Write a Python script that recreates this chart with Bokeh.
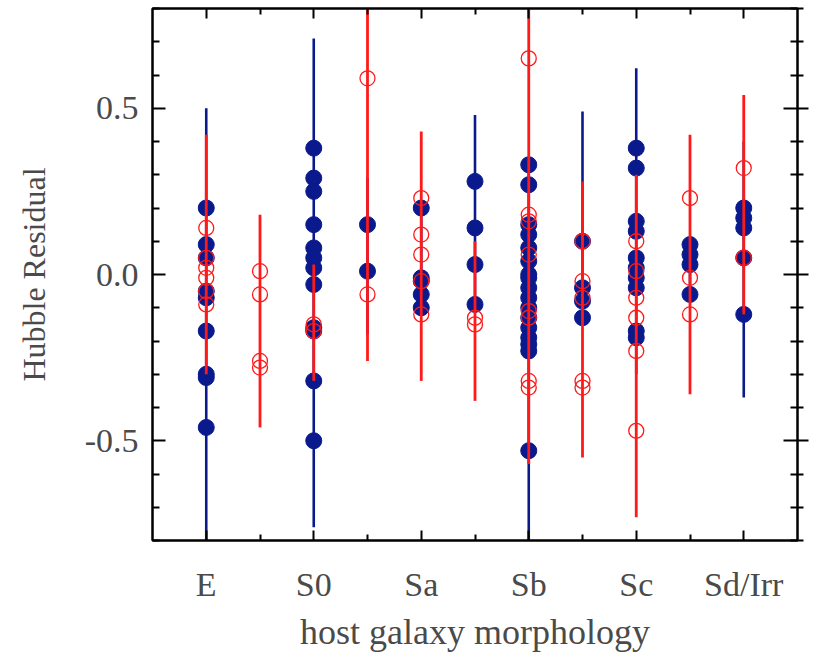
import math
from bokeh.plotting import figure
from bokeh.models import FixedTicker, LinearAxis, Range1d, ColumnDataSource, CustomJSTickFormatter
from bokeh.embed import file_html
from bokeh.resources import INLINE

# morphology bins (0..10); labels only on the main classes
positions = [0, 1, 2, 3, 4, 5, 6, 7, 8, 9, 10]
tick_positions = [0, 2, 4, 6, 8, 10]
tick_labels = ["E", "S0", "Sa", "Sb", "Sc", "Sd/Irr"]
minor_positions = [1, 3, 5, 7, 9]

# Hubble residuals per morphology bin
blue_residuals = [
    [0.20, 0.09, 0.05, -0.05, -0.07, -0.17, -0.30, -0.31, -0.46],
    [],
    [0.38, 0.29, 0.25, 0.15, 0.08, 0.05, 0.02, -0.03, -0.16, -0.17, -0.32, -0.50],
    [0.15, 0.01],
    [0.20, -0.01, -0.02, -0.06, -0.10],
    [0.28, 0.14, 0.03, -0.09],
    [0.33, 0.27, 0.15, 0.12, 0.08, 0.04, 0.00, -0.01, -0.04, -0.07, -0.10, -0.13,
     -0.16, -0.19, -0.21, -0.23, -0.53],
    [0.10, -0.04, -0.08, -0.13],
    [0.38, 0.32, 0.16, 0.13, 0.05, 0.02, -0.01, -0.04, -0.17, -0.19],
    [0.09, 0.06, 0.03, -0.06],
    [0.20, 0.17, 0.14, 0.05, -0.12],
]
red_residuals = [
    [0.14, 0.05, 0.02, -0.01, -0.05, -0.09],
    [0.01, -0.06, -0.26, -0.28],
    [-0.15, -0.17],
    [0.59, -0.06],
    [0.23, 0.12, 0.06, -0.02, -0.12],
    [-0.13, -0.15],
    [0.65, 0.18, 0.16, 0.06, -0.11, -0.13, -0.32, -0.34],
    [0.10, -0.02, -0.07, -0.32, -0.34],
    [0.10, 0.01, -0.07, -0.13, -0.23, -0.47],
    [0.23, -0.01, -0.12],
    [0.32, 0.05],
]
# error-bar extents per bin
nan = float("nan")
blue_err_top = [0.50, nan, 0.71, 0.29, 0.20, 0.48, 0.33, 0.49, 0.62, 0.09, 0.40]
blue_err_bottom = [-0.85, nan, -0.76, -0.18, -0.10, -0.10, -0.85, -0.13, -0.30, -0.06, -0.37]
red_err_top = [0.42, 0.18, 0.03, 0.85, 0.43, 0.10, 0.85, 0.28, 0.30, 0.42, 0.54]
red_err_bottom = [-0.30, -0.46, -0.32, -0.26, -0.32, -0.38, -0.57, -0.55, -0.73, -0.36, -0.12]

BLUE = "#0a1a8c"
RED = "#ff1a1a"
FONT = "Liberation Serif"
TXT = "#4a4a4a"

p = figure(width=816, height=659, output_backend="svg", toolbar_location=None,
           x_range=Range1d(-1, 11), y_range=Range1d(-0.8, 0.8),
           min_border_left=152, min_border_right=19, min_border_top=8,
           min_border_bottom=119, background_fill_color="white",
           border_fill_color="white")
p.grid.visible = False
p.outline_line_color = "black"
p.outline_line_width = 2

def seg_source(tops, bottoms):
    xs, y0, y1 = [], [], []
    for x, t, b in zip(positions, tops, bottoms):
        if not (math.isnan(t) or math.isnan(b)):
            xs.append(x); y0.append(b); y1.append(t)
    return ColumnDataSource(dict(x=xs, y0=y0, y1=y1))

def pt_source(groups):
    xs, ys = [], []
    for x, vals in zip(positions, groups):
        for v in vals:
            xs.append(x); ys.append(v)
    return ColumnDataSource(dict(x=xs, y=ys))

p.segment(x0="x", y0="y0", x1="x", y1="y1", source=seg_source(blue_err_top, blue_err_bottom),
          line_color=BLUE, line_width=2.6)
p.scatter(x="x", y="y", source=pt_source(blue_residuals), marker="circle", size=16,
          fill_color=BLUE, line_color=BLUE)
p.segment(x0="x", y0="y0", x1="x", y1="y1", source=seg_source(red_err_top, red_err_bottom),
          line_color=RED, line_width=2.8)
p.scatter(x="x", y="y", source=pt_source(red_residuals), marker="circle", size=15,
          fill_color=None, line_color=RED, line_width=1.3)

xt = FixedTicker(ticks=tick_positions, minor_ticks=minor_positions)
yt = FixedTicker(ticks=[-0.5, 0.0, 0.5], minor_ticks=[-0.8, -0.7, -0.6, -0.4, -0.3, -0.2, -0.1,
                                                     0.1, 0.2, 0.3, 0.4, 0.6, 0.7, 0.8])

xa = p.xaxis[0]
xa.ticker = xt
xa.major_label_overrides = {t: l for t, l in zip(tick_positions, tick_labels)}
ya = p.yaxis[0]
ya.ticker = yt
ya.major_label_overrides = {-0.5: "-0.5", 0.0: "0.0", 0.5: "0.5"}

for ax in (xa, ya):
    ax.axis_line_color = "black"
    ax.axis_line_width = 2
    ax.major_tick_line_color = "black"
    ax.major_tick_line_width = 2
    ax.minor_tick_line_color = "black"
    ax.minor_tick_line_width = 2
    ax.major_tick_out = 0
    ax.minor_tick_out = 0
    ax.major_label_text_font = FONT
    ax.major_label_text_font_size = "34px"
    ax.major_label_text_color = TXT
    ax.axis_label_text_font = FONT
    ax.axis_label_text_font_style = "normal"
    ax.axis_label_text_color = TXT

xa.major_tick_in = 10
xa.minor_tick_in = 6
xa.major_label_standoff = 25
xa.axis_label = "host galaxy morphology"
xa.axis_label_text_font_size = "36px"
xa.axis_label_standoff = 6

ya.major_tick_in = 13
ya.minor_tick_in = 7
ya.major_label_standoff = 14
ya.axis_label = "Hubble Residual"
ya.axis_label_text_font_size = "32px"
ya.axis_label_standoff = 30

blank = CustomJSTickFormatter(code="return ''")
top = LinearAxis(ticker=FixedTicker(ticks=tick_positions, minor_ticks=minor_positions),
                 formatter=blank, major_label_text_font_size="0px", major_label_standoff=0,
                 axis_line_color="black", axis_line_width=2,
                 major_tick_line_color="black", major_tick_line_width=2,
                 minor_tick_line_color="black", minor_tick_line_width=2,
                 major_tick_in=10, major_tick_out=0, minor_tick_in=6, minor_tick_out=0)
p.add_layout(top, "above")
right = LinearAxis(ticker=FixedTicker(ticks=[-0.5, 0.0, 0.5], minor_ticks=yt.minor_ticks),
                   formatter=blank, major_label_text_font_size="0px", major_label_standoff=0,
                   axis_line_color="black", axis_line_width=2,
                   major_tick_line_color="black", major_tick_line_width=2,
                   minor_tick_line_color="black", minor_tick_line_width=2,
                   major_tick_in=14, major_tick_out=11, minor_tick_in=7, minor_tick_out=6)
p.add_layout(right, "right")

open("out.html", "w").write(file_html(p, INLINE))
